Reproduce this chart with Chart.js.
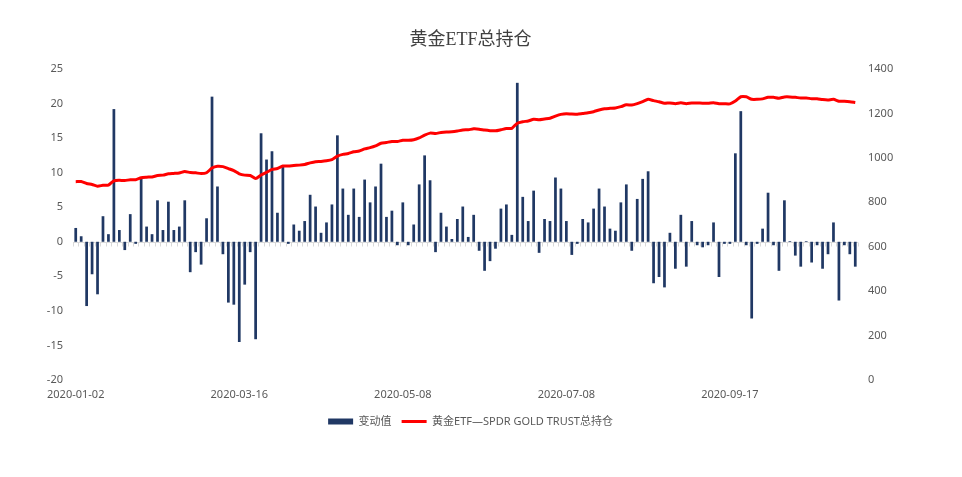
<!DOCTYPE html>
<html>
<head>
<meta charset="utf-8">
<script src="https://cdn.jsdelivr.net/npm/chart.js@4.4.1/dist/chart.umd.min.js"></script>
<style>
  html, body { margin: 0; padding: 0; background: #ffffff; }
  #wrap { width: 962px; height: 477px; position: relative; }
</style>
</head>
<body>
<div id="wrap"><canvas id="c"></canvas></div>
<script>
// ---- data ----
const changes = [
  2.0, 0.8, -9.3, -4.7, -7.6, 3.7, 1.1, 19.2, 1.7, -1.2,
  4.0, -0.3, 9.2, 2.2, 1.1, 6.0, 1.7, 5.8, 1.7, 2.2,
  6.0, -4.4, -1.5, -3.3, 3.4, 21.0, 8.0, -1.8, -8.8, -9.1,
  -14.5, -6.2, -1.5, -14.1, 15.7, 11.9, 13.1, 4.2, 11.0, -0.3,
  2.5, 1.6, 3.0, 6.8, 5.1, 1.3, 2.8, 5.4, 15.4, 7.7,
  3.9, 7.7, 3.6, 9.0, 5.7, 8.0, 11.3, 3.6, 4.5, -0.5,
  5.7, -0.5, 2.5, 8.3, 12.5, 8.9, -1.5, 4.2, 2.2, 0.4,
  3.3, 5.1, 0.7, 3.9, -1.3, -4.2, -2.8, -1.0, 4.8, 5.4,
  1.0, 23.0, 6.5, 3.0, 7.4, -1.6, 3.3, 3.0, 9.3, 7.7,
  3.0, -1.9, -0.3, 3.3, 2.8, 4.8, 7.7, 5.1, 1.9, 1.6,
  5.7, 8.3, -1.3, 6.2, 9.1, 10.2, -6.0, -5.1, -6.6, 1.3,
  -3.9, 3.9, -3.6, 3.0, -0.5, -0.8, -0.5, 2.8, -5.1, -0.3,
  -0.3, 12.8, 18.9, -0.5, -11.1, -0.3, 1.9, 7.1, -0.5, -4.2,
  6.0, 0.1, -2.0, -3.6, 0.1, -3.0, -0.5, -3.9, -1.8, 2.8,
  -8.5, -0.5, -1.8, -3.6
];
const holdings = [
  893.0, 893.9, 884.7, 880.1, 872.6, 876.4, 877.6, 896.9, 898.7, 897.6,
  901.7, 901.5, 910.8, 913.1, 914.3, 920.4, 922.2, 928.1, 929.9, 932.2,
  938.3, 934.0, 932.6, 929.4, 932.9, 954.0, 962.1, 960.4, 951.7, 942.7,
  928.3, 922.2, 920.8, 906.8, 922.6, 934.6, 947.8, 952.1, 963.2, 963.0,
  965.6, 967.3, 970.4, 977.3, 982.5, 983.9, 986.8, 992.3, 1007.8, 1015.6,
  1019.6, 1027.4, 1031.1, 1040.2, 1046.0, 1054.1, 1065.5, 1069.2, 1073.8, 1073.4,
  1079.2, 1078.8, 1081.4, 1089.8, 1102.4, 1111.4, 1110.0, 1114.3, 1116.6, 1117.1,
  1120.5, 1125.7, 1126.5, 1130.5, 1129.3, 1125.2, 1122.5, 1121.6, 1126.5, 1132.0,
  1133.1, 1156.2, 1162.8, 1165.9, 1173.4, 1171.9, 1175.3, 1178.4, 1187.8, 1195.6,
  1198.7, 1196.9, 1196.7, 1200.1, 1203.0, 1207.9, 1215.7, 1220.9, 1222.9, 1224.6,
  1230.4, 1238.8, 1237.6, 1243.9, 1253.1, 1263.4, 1257.5, 1252.5, 1246.0, 1247.4,
  1243.6, 1247.6, 1244.1, 1247.2, 1246.8, 1246.1, 1245.7, 1248.6, 1243.6, 1243.4,
  1243.2, 1256.1, 1275.1, 1274.7, 1263.7, 1263.5, 1265.5, 1272.7, 1272.3, 1268.2,
  1274.3, 1274.5, 1272.6, 1269.1, 1269.3, 1266.4, 1266.0, 1262.2, 1260.5, 1263.4,
  1255.0, 1254.6, 1252.9, 1249.4
];
const tickLabels = ['2020-01-02', '2020-03-16', '2020-05-08', '2020-07-08', '2020-09-17'];
const tickStep = 30;
const barName = '变动值';
const lineName = '黄金ETF—SPDR GOLD TRUST总持仓';
const titleText = '黄金ETF总持仓';

// category labels: a date under every 30th category
const categories = changes.map((_, i) => (i % tickStep === 0 && tickLabels[i / tickStep]) ? tickLabels[i / tickStep] : '');

const sansFont = "'Noto Sans', 'Noto Sans CJK SC', sans-serif";

const zeroAxis = {
  id: 'zeroAxis',
  beforeDatasetsDraw(chart) {
    const { ctx, chartArea: a, scales } = chart;
    const x = scales.x, y = scales.y;
    const y0 = Math.round(y.getPixelForValue(0)) + 0.5;
    const half = (x.getPixelForValue(1) - x.getPixelForValue(0)) / 2;
    ctx.save();
    ctx.strokeStyle = '#d9d9d9';
    ctx.lineWidth = 1;
    ctx.beginPath();
    ctx.moveTo(a.left, y0);
    ctx.lineTo(a.right, y0);
    for (let i = 0; i <= changes.length; i++) {
      const px = Math.round(x.getPixelForValue(0) - half + i * 2 * half) + 0.5;
      ctx.moveTo(px, y0);
      ctx.lineTo(px, y0 + 4);
    }
    ctx.stroke();
    ctx.restore();
  }
};

new Chart(document.getElementById('c'), {
  data: {
    labels: categories,
    datasets: [
      {
        type: 'line',
        label: lineName,
        data: holdings,
        yAxisID: 'y2',
        borderColor: '#ff0000',
        backgroundColor: '#ff0000',
        borderWidth: 3,
        pointRadius: 0,
        pointStyle: 'line',
        tension: 0.2,
        order: 0
      },
      {
        type: 'bar',
        label: barName,
        data: changes,
        yAxisID: 'y',
        backgroundColor: '#203864',
        borderWidth: 0,
        barPercentage: 0.5,
        categoryPercentage: 1.0,
        pointStyle: 'rect',
        order: 1
      }
    ]
  },
  options: {
    responsive: true,
    maintainAspectRatio: false,
    animation: false,
    layout: { padding: { top: 29, bottom: 40, left: 0, right: 21 } },
    plugins: {
      title: {
        display: true,
        text: titleText,
        color: '#404040',
        font: { family: "'Liberation Serif', 'DejaVu Serif', 'Noto Sans CJK SC', serif", size: 18, weight: 'normal', lineHeight: 1.2 },
        padding: { top: 0, bottom: 18.4 }
      },
      legend: {
        display: true,
        position: 'bottom',
        reverse: true,
        labels: {
          usePointStyle: true,
          pointStyleWidth: 25,
          boxWidth: 25,
          boxHeight: 6,
          padding: 10,
          color: '#595959',
          font: { family: sansFont, size: 11 }
        }
      },
      tooltip: { enabled: false }
    },
    scales: {
      x: {
        type: 'category',
        offset: true,
        grid: { display: false, drawTicks: false },
        border: { display: false },
        ticks: {
          autoSkip: false,
          maxRotation: 0,
          minRotation: 0,
          padding: 8,
          color: '#595959',
          font: { family: sansFont, size: 11 }
        },
        afterFit(scale) { scale.height = 26; }
      },
      y: {
        type: 'linear',
        position: 'left',
        min: -20,
        max: 25,
        ticks: { stepSize: 5, padding: 10, color: '#595959', font: { family: sansFont, size: 11 } },
        grid: { display: false, drawTicks: false },
        border: { display: false },
        afterFit(scale) { scale.width = 73; }
      },
      y2: {
        type: 'linear',
        position: 'right',
        min: 0,
        max: 1400,
        ticks: {
          stepSize: 200, padding: 10, color: '#595959', font: { family: sansFont, size: 11 },
          callback: (v) => String(v)
        },
        grid: { display: false, drawTicks: false },
        border: { display: false },
        afterFit(scale) { scale.width = 83; }
      }
    }
  },
  plugins: [zeroAxis]
});
</script>
</body>
</html>
